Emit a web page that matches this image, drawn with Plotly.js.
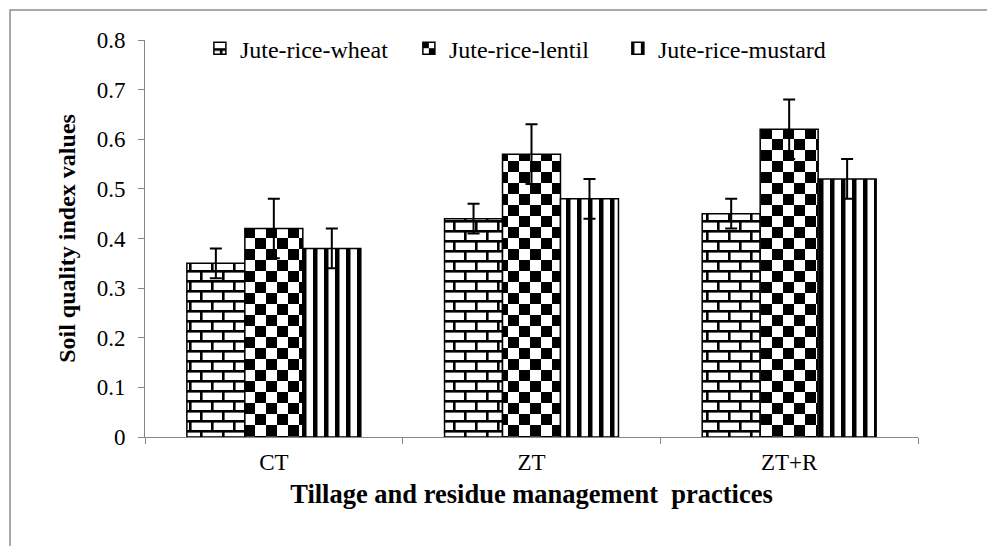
<!DOCTYPE html>
<html>
<head>
<meta charset="utf-8">
<script src="https://cdn.plot.ly/plotly-3.0.1.min.js"></script>
<style>
  html, body { margin: 0; padding: 0; background: #ffffff; }
  #chart { width: 987px; height: 546px; }
</style>
</head>
<body>
<div id="chart"></div>
<script>
// ---- data ----
const categories = ['CT', 'ZT', 'ZT+R'];
const seriesNames = ['Jute-rice-wheat', 'Jute-rice-lentil', 'Jute-rice-mustard'];
const wheatValues = [0.35, 0.44, 0.45];
const wheatErrors = [0.03, 0.03, 0.03];
const lentilValues = [0.42, 0.57, 0.62];
const lentilErrors = [0.06, 0.06, 0.06];
const mustardValues = [0.38, 0.48, 0.52];
const mustardErrors = [0.04, 0.04, 0.04];
const yTickValues = [0, 0.1, 0.2, 0.3, 0.4, 0.5, 0.6, 0.7, 0.8];
const yTickLabels = ['0', '0.1', '0.2', '0.3', '0.4', '0.5', '0.6', '0.7', '0.8'];

const FONT = '"Times New Roman", "Liberation Serif", serif';
const AXIS_GREY = '#868686';

function barTrace(name, values, errors, shape) {
  return {
    type: 'bar',
    name: name,
    x: categories,
    y: values,
    marker: {
      color: '#ffffff',
      line: { color: '#000000', width: 1.5 },
      pattern: { shape: shape, fgcolor: '#000000', bgcolor: '#ffffff', size: 11, solidity: 0.4 }
    },
    error_y: {
      type: 'data',
      array: errors,
      visible: true,
      color: '#000000',
      thickness: 2,
      width: 6
    },
    hoverinfo: 'skip'
  };
}

const data = [
  barTrace(seriesNames[0], wheatValues, wheatErrors, '+'),
  barTrace(seriesNames[1], lentilValues, lentilErrors, 'x'),
  barTrace(seriesNames[2], mustardValues, mustardErrors, '|')
];

const layout = {
  width: 987,
  height: 546,
  paper_bgcolor: '#ffffff',
  plot_bgcolor: '#ffffff',
  margin: { l: 145, r: 69, t: 40, b: 109, pad: 0 },
  font: { family: FONT, size: 23, color: '#000000' },
  barmode: 'group',
  bargap: 0.325,
  bargroupgap: 0,
  showlegend: true,
  legend: {
    orientation: 'h',
    x: 0.071,
    xanchor: 'left',
    y: 1.035,
    yanchor: 'top',
    bgcolor: 'rgba(0,0,0,0)',
    font: { family: FONT, size: 24, color: '#000000' },
    entrywidth: 164,
    entrywidthmode: 'pixels',
    itemwidth: 30,
    tracegroupgap: 0
  },
  xaxis: {
    type: 'category',
    showline: true,
    linecolor: AXIS_GREY,
    linewidth: 1,
    ticks: 'outside',
    tickson: 'boundaries',
    ticklen: 6,
    tickcolor: AXIS_GREY,
    tickwidth: 1,
    showgrid: false,
    zeroline: false,
    ticklabelstandoff: 4,
    tickfont: { family: FONT, size: 23, color: '#000000' },
    title: {
      text: '<b>Tillage and residue management  practices</b>',
      font: { family: FONT, size: 26.5, color: '#000000' },
      standoff: 10
    }
  },
  yaxis: {
    range: [0, 0.8],
    tickvals: yTickValues,
    ticktext: yTickLabels,
    showline: true,
    linecolor: AXIS_GREY,
    linewidth: 1,
    ticks: 'outside',
    ticklen: 6,
    tickcolor: AXIS_GREY,
    tickwidth: 1,
    showgrid: false,
    zeroline: false,
    ticklabelstandoff: 8,
    tickfont: { family: FONT, size: 23, color: '#000000' },
    title: {
      text: '<b>Soil quality index values</b>',
      font: { family: FONT, size: 24, color: '#000000' },
      standoff: 14
    }
  },
  shapes: [
    {
      type: 'rect',
      xref: 'paper', yref: 'paper',
      x0: -0.1746, x1: 1.2,
      y0: -0.35, y1: 1.0756,
      line: { color: '#8c8c8c', width: 1.5 },
      fillcolor: 'rgba(0,0,0,0)',
      layer: 'below'
    }
  ]
};

const SVGNS = 'http://www.w3.org/2000/svg';
function el(tag, attrs) {
  const e = document.createElementNS(SVGNS, tag);
  for (const k in attrs) e.setAttribute(k, attrs[k]);
  return e;
}

function addPatterns(gd) {
  const defs = gd.querySelector('svg.main-svg defs');
  if (!defs) return;
  const brick = el('pattern', { id: 'brickPat', patternUnits: 'userSpaceOnUse', width: 22, height: 20 });
  brick.appendChild(el('rect', { x: 0, y: 0, width: 22, height: 20, fill: '#ffffff' }));
  brick.appendChild(el('rect', { x: 0, y: 0, width: 22, height: 2.6, fill: '#000000' }));
  brick.appendChild(el('rect', { x: 0, y: 10, width: 22, height: 2.6, fill: '#000000' }));
  brick.appendChild(el('rect', { x: 0, y: 0, width: 2.6, height: 10, fill: '#000000' }));
  brick.appendChild(el('rect', { x: 11, y: 10, width: 2.6, height: 10, fill: '#000000' }));
  defs.appendChild(brick);
  const checker = el('pattern', { id: 'checkerPat', patternUnits: 'userSpaceOnUse', width: 22, height: 22 });
  checker.appendChild(el('rect', { x: 0, y: 0, width: 22, height: 22, fill: '#ffffff' }));
  checker.appendChild(el('rect', { x: 0, y: 0, width: 11, height: 11, fill: '#000000' }));
  checker.appendChild(el('rect', { x: 11, y: 11, width: 11, height: 11, fill: '#000000' }));
  defs.appendChild(checker);
  const stripes = el('pattern', { id: 'stripePat', patternUnits: 'userSpaceOnUse', width: 11, height: 11 });
  stripes.appendChild(el('rect', { x: 0, y: 0, width: 11, height: 11, fill: '#ffffff' }));
  stripes.appendChild(el('rect', { x: 3, y: 0, width: 4.5, height: 11, fill: '#000000' }));
  defs.appendChild(stripes);

  const ids = ['brickPat', 'checkerPat', 'stripePat'];
  gd.querySelectorAll('.barlayer .trace').forEach((t, i) => {
    t.querySelectorAll('.point path').forEach(p => {
      p.style.fill = 'url(#' + ids[i] + ')';
      p.style.fillOpacity = 1;
    });
  });
  gd.querySelectorAll('.legend .traces').forEach((t, i) => {
    t.querySelectorAll('.legendpoints path').forEach(p => {
      p.style.fill = 'url(#' + ids[i] + ')';
      p.style.fillOpacity = 1;
    });
  });
}

Plotly.newPlot('chart', data, layout, { displayModeBar: false, staticPlot: true }).then(addPatterns);
</script>
</body>
</html>
